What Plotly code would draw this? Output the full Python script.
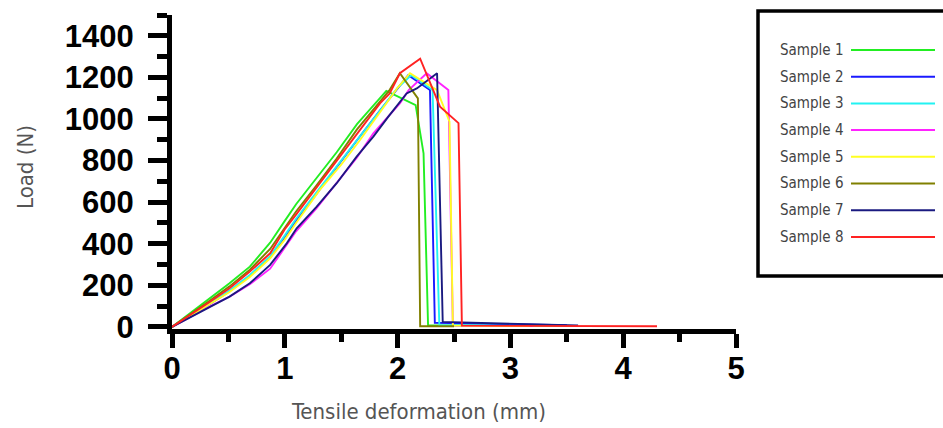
import plotly.graph_objects as go

# ---------------- data ----------------
names = ["Sample 1", "Sample 2", "Sample 3", "Sample 4",
         "Sample 5", "Sample 6", "Sample 7", "Sample 8"]
colors = ["#22ee22", "#1a1aff", "#22f2f2", "#ff22ff",
          "#ffff22", "#808000", "#1a1a80", "#ff2222"]

s1_x = [0, 0.17, 0.34, 0.51, 0.69, 0.87, 1.0, 1.1, 1.28, 1.46, 1.64, 1.82, 1.9, 2.16, 2.23, 2.27, 2.6, 3.2, 3.6]
s1_y = [0, 70, 138, 210, 290, 405, 510, 590, 715, 840, 975, 1085, 1135, 1067, 835, 8, 7, 6, 5]

s2_x = [0, 0.17, 0.34, 0.51, 0.69, 0.87, 1.0, 1.1, 1.3, 1.5, 1.65, 1.85, 2.0, 2.095, 2.287, 2.33, 2.6, 3.0, 3.5]
s2_y = [0, 55, 112, 172, 245, 335, 430, 510, 655, 795, 905, 1045, 1150, 1211, 1139, 20, 17, 12, 8]

s3_x = [0, 0.17, 0.34, 0.51, 0.69, 0.87, 1.0, 1.1, 1.3, 1.5, 1.65, 1.85, 2.0, 2.12, 2.31, 2.37, 2.7, 3.2]
s3_y = [0, 57, 115, 175, 250, 340, 440, 520, 660, 800, 910, 1050, 1150, 1210, 1139, 8, 6, 5]

s4_x = [0, 0.17, 0.34, 0.51, 0.69, 0.87, 1.0, 1.1, 1.28, 1.46, 1.64, 1.785, 2.02, 2.1, 2.258, 2.45, 2.49, 2.8, 3.2]
s4_y = [0, 50, 100, 145, 205, 280, 380, 460, 570, 690, 815, 931, 1075, 1140, 1220, 1139, 6, 5, 4]

s5_x = [0, 0.17, 0.34, 0.51, 0.69, 0.87, 1.0, 1.1, 1.31, 1.5, 1.667, 1.85, 2.0, 2.11, 2.35, 2.46, 2.49, 2.8, 3.17]
s5_y = [0, 55, 110, 168, 240, 330, 420, 500, 659, 780, 899, 1040, 1150, 1220, 1139, 987, 6, 5, 4]

s6_x = [0, 0.17, 0.34, 0.51, 0.69, 0.87, 1.0, 1.1, 1.28, 1.46, 1.64, 1.82, 1.93, 2.02, 2.18, 2.2, 2.5]
s6_y = [0, 62, 128, 195, 275, 375, 475, 555, 680, 810, 950, 1070, 1140, 1220, 1099, 3, 3]

s7_x = [0, 0.17, 0.34, 0.51, 0.69, 0.87, 1.017, 1.105, 1.283, 1.46, 1.637, 1.785, 1.918, 2.08, 2.17, 2.35, 2.4, 2.8, 3.2, 3.6]
s7_y = [0, 48, 98, 146, 210, 298, 402, 474, 578, 691, 819, 915, 1011, 1123, 1147, 1220, 24, 18, 12, 7]

s8_x = [0, 0.17, 0.34, 0.51, 0.69, 0.87, 1.0, 1.1, 1.22, 1.4, 1.578, 1.755, 1.844, 1.93, 2.02, 2.2, 2.376, 2.54, 2.57, 3.0, 3.6, 4.3]
s8_y = [0, 60, 122, 186, 266, 354, 470, 540, 626, 755, 883, 1011, 1075, 1123, 1220, 1290, 1059, 980, 6, 5, 4, 3]

xs = [s1_x, s2_x, s3_x, s4_x, s5_x, s6_x, s7_x, s8_x]
ys = [s1_y, s2_y, s3_y, s4_y, s5_y, s6_y, s7_y, s8_y]

x_tick_vals = [0, 1, 2, 3, 4, 5]
y_tick_vals = [0, 200, 400, 600, 800, 1000, 1200, 1400]

# ---------------- layout geometry ----------------
W, H = 943, 428
L, R, T, B = 172, 207, 15, 99
PW, PH = W - L - R, H - T - B


def px_x(px):
    return (px - L) / PW


def px_y(py):
    return (H - B - py) / PH


fig = go.Figure()
for n, c, x, y in zip(names, colors, xs, ys):
    fig.add_trace(go.Scatter(x=x, y=y, mode="lines", name=n,
                             line=dict(color=c, width=1.9), showlegend=False))

tick_font = dict(family="Liberation Sans, Arial, sans-serif", size=31,
                 color="black", weight="bold")
title_font = dict(family="Liberation Sans Narrow, DejaVu Sans Condensed, sans-serif",
                  size=22, color="#555555")

fig.update_layout(
    width=W, height=H,
    margin=dict(l=L, r=R, t=T, b=B, autoexpand=False),
    paper_bgcolor="white", plot_bgcolor="white",
    xaxis=dict(range=[0, 5], tickvals=x_tick_vals, ticks="outside",
               ticklen=14, tickwidth=5, tickcolor="black",
               showline=True, linewidth=5, linecolor="black",
               showgrid=False, zeroline=False, tickfont=tick_font,
               automargin=False, ticklabelstandoff=-6,
               minor=dict(dtick=0.5, ticks="outside", ticklen=8, tickwidth=5,
                          tickcolor="black", showgrid=False)),
    yaxis=dict(range=[-10, 1500], tickvals=y_tick_vals, ticks="outside",
               ticklen=19, tickwidth=5, tickcolor="black",
               showline=True, linewidth=5, linecolor="black",
               showgrid=False, zeroline=False, tickfont=tick_font,
               ticklabelstandoff=8, automargin=False,
               minor=dict(dtick=100, ticks="outside", ticklen=10, tickwidth=5,
                          tickcolor="black", showgrid=False)),
)

# axis titles
fig.add_annotation(text="Tensile deformation (mm)", xref="paper", yref="paper",
                   x=px_x(418), y=px_y(411), showarrow=False,
                   xanchor="center", yanchor="middle", font=title_font)
fig.add_annotation(text="Load (N)", xref="paper", yref="paper",
                   x=px_x(25), y=px_y(167), showarrow=False, textangle=-90,
                   xanchor="center", yanchor="middle", font=title_font)

# legend box (text left, line sample right)
fig.add_shape(type="rect", xref="paper", yref="paper",
              x0=px_x(758), x1=px_x(975), y0=px_y(276), y1=px_y(11),
              line=dict(color="black", width=3.5), fillcolor="rgba(0,0,0,0)")
row0, drow = 50, 26.7
leg_font = dict(family="Liberation Sans Narrow, DejaVu Sans Condensed, sans-serif",
                size=15, color="#444444")
for i, (n, c) in enumerate(zip(names, colors)):
    yy = row0 + i * drow
    fig.add_annotation(text=n, xref="paper", yref="paper", x=px_x(778), y=px_y(yy),
                       showarrow=False, xanchor="left", yanchor="middle", font=leg_font)
    fig.add_shape(type="line", xref="paper", yref="paper",
                  x0=px_x(851), x1=px_x(935), y0=px_y(yy), y1=px_y(yy),
                  line=dict(color=c, width=2))

fig.write_html("out.html", config={"displayModeBar": False},
               post_script="document.body.style.margin='0px';document.body.style.overflow='hidden';")
